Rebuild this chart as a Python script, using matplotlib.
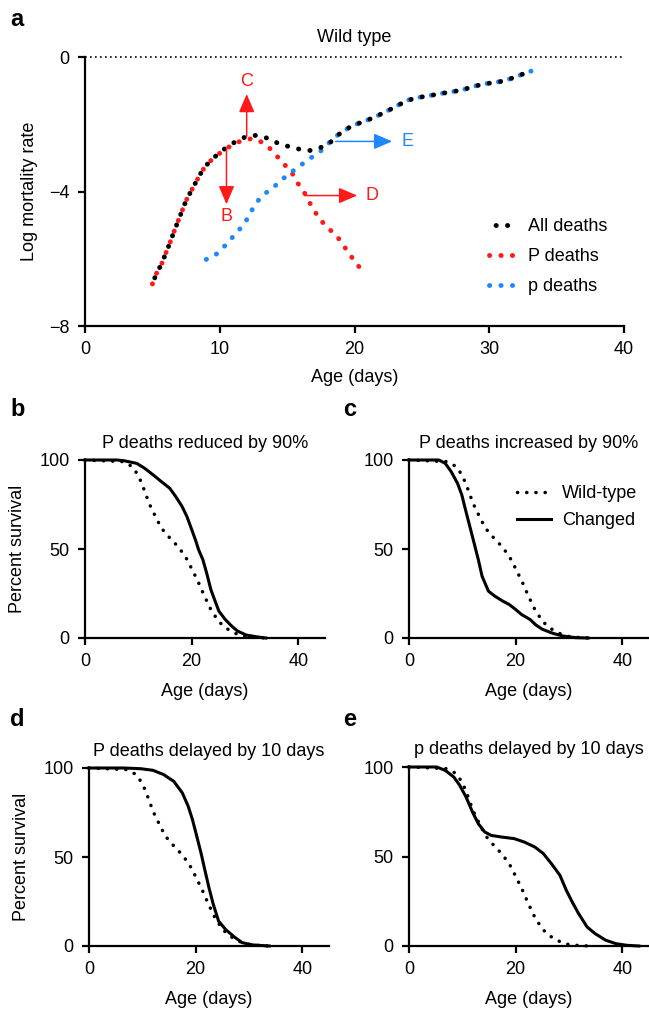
import matplotlib
matplotlib.use('Agg')
import matplotlib.pyplot as plt

plt.rcParams['font.family'] = ['Liberation Sans', 'DejaVu Sans']
plt.rcParams['font.size'] = 13

RED = '#ff1a1a'
BLUE = '#1e88ff'

# panel a: log mortality rate
all_x = [5.0, 5.3, 5.7, 6.0, 6.3, 6.6, 6.9, 7.2, 7.5, 7.9, 8.3, 8.7, 9.2, 9.8, 10.5, 11.2, 12.0, 12.7,
         13.5, 14.3, 15.1, 15.9, 16.7, 17.5, 18.2, 18.8, 19.6, 20.2, 21.0, 21.7, 22.6, 23.3, 24.0, 24.8,
         25.7, 26.5, 27.3, 28.0, 28.8, 29.6, 30.4, 31.1, 31.9, 32.8, 33.1]
all_y = [-6.75, -6.44, -6.14, -5.83, -5.53, -5.2, -4.89, -4.58, -4.27, -3.97, -3.67, -3.38, -3.13, -2.91,
         -2.69, -2.51, -2.36, -2.33, -2.41, -2.56, -2.66, -2.74, -2.78, -2.69, -2.54, -2.31, -2.10, -1.99,
         -1.87, -1.75, -1.57, -1.42, -1.28, -1.20, -1.14, -1.08, -1.03, -0.98, -0.88, -0.80, -0.76, -0.71,
         -0.60, -0.46, -0.42]
P_x = [5.0, 5.3, 5.7, 6.0, 6.3, 6.6, 6.9, 7.2, 7.5, 7.9, 8.3, 8.7, 9.2, 9.8, 10.5, 11.2, 12.0, 12.4,
       12.8, 13.5, 14.1, 14.7, 15.3, 15.7, 16.3, 16.9, 17.4, 18.0, 18.6, 19.1, 19.6, 20.1, 20.7]
P_y = [-6.75, -6.44, -6.14, -5.83, -5.53, -5.2, -4.89, -4.58, -4.27, -3.97, -3.67, -3.38, -3.13, -2.92,
       -2.72, -2.55, -2.45, -2.43, -2.46, -2.63, -2.88, -3.16, -3.40, -3.70, -4.05, -4.50, -4.81, -5.08,
       -5.28, -5.55, -5.85, -6.12, -6.42]
p_x = [9.0, 9.7, 10.3, 10.9, 11.5, 12.0, 12.3, 12.8, 13.4, 14.0, 14.6, 15.3, 15.9, 16.6, 17.3, 17.9,
       18.3, 18.8, 19.6, 20.2, 21.0, 21.7, 22.6, 23.3, 24.0, 24.8, 25.7, 26.5, 27.3, 28.0, 28.8, 29.6,
       30.4, 31.1, 31.9, 32.8, 33.1]
p_y = [-6.02, -5.88, -5.65, -5.38, -5.11, -4.84, -4.61, -4.29, -4.05, -3.87, -3.65, -3.43, -3.25, -3.04,
       -2.86, -2.66, -2.46, -2.31, -2.10, -1.99, -1.87, -1.75, -1.57, -1.42, -1.28, -1.20, -1.14, -1.08,
       -1.03, -0.98, -0.88, -0.80, -0.76, -0.71, -0.60, -0.46, -0.42]

# survival curves (percent)
wt_x = [0, 7.0, 8.9, 10.1, 11.1, 12.0, 13.2, 14.3, 15.9, 17.4, 18.8, 20.1, 21.3, 22.4, 23.6, 25.0, 26.3,
        27.9, 29.4, 31.3, 33.7]
wt_y = [100, 99.1, 96.3, 90.7, 83.2, 75.7, 68.3, 61.8, 56.2, 51.5, 45.9, 38.4, 31.0, 23.5, 16.0, 9.5, 5.8,
        3.0, 1.1, 0.4, 0]

b_x = [0, 6.0, 7.3, 9.7, 11.2, 12.8, 14.3, 15.9, 17.0, 18.2, 19.1, 19.9, 20.7, 21.3, 22.1, 22.8, 23.6,
       24.4, 25.1, 26.3, 27.5, 28.6, 30.2, 32.1, 33.9]
b_y = [100, 100, 99.6, 98.1, 95.3, 91.6, 87.9, 84.1, 79.5, 73.9, 68.3, 61.8, 55.2, 49.6, 44.0, 36.6, 27.2,
       20.7, 15.1, 10.4, 6.7, 3.9, 1.7, 0.7, 0]

c_x = [0, 5.6, 6.8, 7.9, 9.1, 9.9, 10.6, 11.4, 12.2, 13.0, 13.7, 14.9, 16.1, 17.6, 18.8, 20.0, 21.1, 22.7,
       23.8, 25.0, 27.0, 28.9, 31.2, 33.6]
c_y = [100, 100, 98.1, 93.5, 86.9, 80.4, 72.0, 62.7, 53.4, 44.0, 34.7, 26.3, 23.5, 20.7, 18.8, 16.0, 13.2,
       10.4, 7.3, 4.9, 2.6, 1.1, 0.2, 0]

d_x = [0, 6.6, 9.7, 12.0, 14.0, 15.9, 17.5, 18.6, 19.4, 20.2, 21.0, 21.7, 22.5, 23.3, 24.3, 25.6, 27.2,
       28.7, 30.7, 33.8]
d_y = [100, 100, 99.6, 98.7, 96.3, 92.5, 86.0, 78.5, 71.0, 61.7, 52.3, 43.0, 32.7, 23.4, 14.0, 9.3, 5.2,
       1.9, 0.6, 0]

e_x = [0, 5.2, 6.8, 8.4, 9.5, 10.7, 11.9, 13.0, 14.2, 15.4, 17.3, 19.7, 21.6, 23.6, 25.2, 26.7, 28.3, 29.5,
       30.6, 31.8, 33.4, 34.9, 36.9, 38.8, 40.8, 43.1]
e_y = [100, 100, 98.1, 94.4, 89.8, 83.2, 74.9, 68.3, 63.7, 61.8, 60.9, 60.0, 58.1, 55.3, 51.6, 46.0, 39.5,
       31.1, 24.6, 18.1, 10.6, 6.9, 3.2, 1.3, 0.4, 0]

W, H = 649, 1010
fig = plt.figure(figsize=(W / 100, H / 100), dpi=100)


def box(x0, y0, x1, y1):
    return [x0 / W, 1 - y1 / H, (x1 - x0) / W, (y1 - y0) / H]


def style(ax):
    for s in ['top', 'right']:
        ax.spines[s].set_visible(False)
    for s in ['left', 'bottom']:
        ax.spines[s].set_linewidth(1.6)
    ax.tick_params(width=1.6, length=5, direction='out', pad=6)


DOT = (0, (0.05, 2.3))
LWD = 3.5

# ---- a ----
ax = fig.add_axes(box(85, 57, 624, 326))
style(ax)
ax.set_xlim(0, 40)
ax.set_ylim(-8, 0)
ax.set_xticks([0, 10, 20, 30, 40])
ax.set_yticks([0, -4, -8])
ax.set_yticklabels(['0', '\u22124', '\u22128'])
ax.plot([0, 40], [0, 0], color='black', lw=1.2, ls=(0, (1, 2)), clip_on=False)
ax.plot(P_x, P_y, color=RED, lw=LWD, ls=DOT, dash_capstyle='round', label='P deaths')
ax.plot(p_x, p_y, color=BLUE, lw=LWD, ls=DOT, dash_capstyle='round', label='p deaths')
ax.plot(all_x, all_y, color='black', lw=LWD, ls=(1.0, (0.05, 2.3)), dash_capstyle='round',
        label='All deaths')
hs, ls_ = ax.get_legend_handles_labels()
order = [2, 0, 1]
ax.legend([hs[i] for i in order], [ls_[i] for i in order], loc='lower right', bbox_to_anchor=(1.0, 0.055),
          frameon=False, handlelength=1.5, fontsize=13, labelspacing=0.72, handletextpad=0.7)
ax.set_title('Wild type', fontsize=13, pad=11)
ax.set_xlabel('Age (days)', fontsize=13, labelpad=8)
ax.set_ylabel('Log mortality rate', fontsize=13, labelpad=8)

arr = dict(arrowstyle='-|>,head_length=0.7,head_width=0.3', lw=1.1, shrinkA=0, shrinkB=0,
           mutation_scale=16)
ax.annotate('', xy=(12.0, -1.1), xytext=(12.0, -2.36), arrowprops=dict(arr, color=RED))
ax.text(12.0, -0.72, 'C', color=RED, ha='center', va='center', fontsize=13)
ax.annotate('', xy=(10.5, -4.38), xytext=(10.5, -2.72), arrowprops=dict(arr, color=RED))
ax.text(10.5, -4.74, 'B', color=RED, ha='center', va='center', fontsize=13)
ax.annotate('', xy=(20.2, -4.12), xytext=(16.3, -4.12), arrowprops=dict(arr, color=RED))
ax.text(21.3, -4.12, 'D', color=RED, ha='center', va='center', fontsize=13)
ax.annotate('', xy=(22.8, -2.51), xytext=(18.6, -2.51), arrowprops=dict(arr, color=BLUE))
ax.text(23.9, -2.51, 'E', color=BLUE, ha='center', va='center', fontsize=13)

# ---- b-e ----
panels = [
    (box(85, 460, 325, 638), 'P deaths reduced by 90%', b_x, b_y, True, False),
    (box(409, 460, 649, 638), 'P deaths increased by 90%', c_x, c_y, False, True),
    (box(89, 768, 329, 946), 'P deaths delayed by 10 days', d_x, d_y, True, False),
    (box(409, 767, 649, 946), 'p deaths delayed by 10 days', e_x, e_y, False, False),
]
for pos, title, cx, cy, ylab, leg in panels:
    ax = fig.add_axes(pos)
    style(ax)
    ax.set_xlim(0, 45)
    ax.set_ylim(0, 100)
    ax.set_xticks([0, 20, 40])
    ax.set_yticks([0, 50, 100])
    ax.plot(wt_x, wt_y, color='black', lw=2.5, ls=(0, (0.05, 2.6)), dash_capstyle='round',
            clip_on=False, label='Wild-type')
    ax.plot(cx, cy, color='black', lw=2.2, clip_on=False, label='Changed')
    ax.set_title(title, fontsize=13, pad=9)
    ax.set_xlabel('Age (days)', fontsize=13, labelpad=9)
    if ylab:
        ax.set_ylabel('Percent survival', fontsize=13, labelpad=10)
    if leg:
        ax.legend(loc='upper right', bbox_to_anchor=(1.02, 0.95), frameon=False, handlelength=1.9,
                  fontsize=13, labelspacing=0.55, handletextpad=0.6)

for lab, x, y in [('a', 10, 20), ('b', 10, 410), ('c', 343, 410), ('d', 10, 720), ('e', 343, 720)]:
    fig.text(x / W, 1 - y / H, lab, fontsize=17, fontweight='bold', ha='left', va='center')

fig.savefig('out.png', dpi=100)
